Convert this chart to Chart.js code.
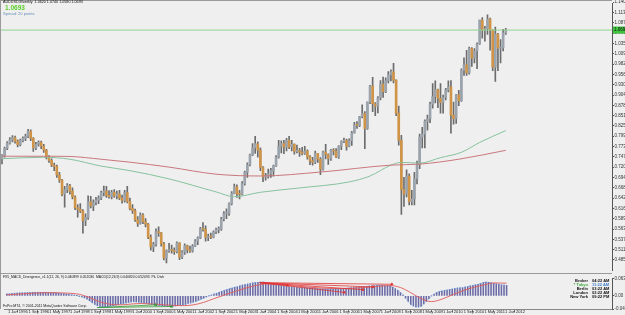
<!DOCTYPE html>
<html>
<head>
<meta charset="utf-8">
<script src="https://cdn.jsdelivr.net/npm/chart.js@4.4.1/dist/chart.umd.min.js"></script>
<style>
  body { margin: 0; background: #fff; }
  #wrap { position: relative; width: 625px; height: 315px; background: #efefef; overflow: hidden;
          font-family: 'Liberation Sans', Arial, sans-serif; }
  canvas { position: absolute; left: 0; }
  .t { position: absolute; white-space: nowrap; line-height: 1; color: #111; }
  .line { position: absolute; background: #9a9a9a; }
</style>
</head>
<body>
<div id="wrap">
  <canvas id="priceChart" width="625" height="274" style="top:0"></canvas>
  <canvas id="macdChart" width="625" height="41" style="top:274px"></canvas>
  <div class="line" style="left:0;top:0;width:612px;height:1px"></div>
  <div class="line" style="left:0;top:0;width:1px;height:309px"></div>
  <div class="line" style="left:0;top:273px;width:612px;height:1px"></div>

  <div class="t" style="left:3px;top:1px;font-size:3.7px">AUDUSD,Monthly&nbsp; 1.0620 1.0740 1.0580 1.0693</div>
  <div class="t" style="left:5px;top:5px;font-size:6.5px;font-weight:bold;color:#5ccf2c">1.0693</div>
  <div class="t" style="left:3px;top:12px;font-size:4px;color:#6a8fb8">Spread: 20 points.</div>
  <div class="t" style="left:3px;top:276px;font-size:3.4px">FX5_MACD_Divergence_v1.1(12, 26, 9) 0.040899 0.052030&nbsp; MACD(12,26,9) 0.040820 0.052093&nbsp; Pk. Divh</div>
  <div class="t" style="left:3px;top:304.5px;font-size:3.5px">FxPro MT4, © 2001-2011 MetaQuotes Software Corp.</div>
  <div class="t" style="left:556px;top:279px;width:32px;text-align:right;font-size:4px;font-weight:bold;line-height:4px">
    Broker<br><span style="color:#3aa63a">* Tokyo</span><br>Berlin<br>London<br>New York
  </div>
  <div class="t" style="left:592px;top:279px;font-size:4px;font-weight:bold;line-height:4px">
    04:22 AM<br><span style="color:#3d7fd0">11:22 AM</span><br>03:22 AM<br>02:22 AM<br>09:22 PM
  </div>
</div>
<script>
// AUDUSD monthly candles, Jan 1996 .. Feb 2012 (one value per month)
const opens = [
  0.7420,0.7500,0.7690,0.7820,0.7900,0.7960,0.7870,0.7780,0.7890,0.7940,0.7990,0.8120,
  0.7940,0.7700,0.7790,0.7840,0.7740,0.7640,0.7470,0.7380,0.7260,0.7230,0.7010,0.6880,
  0.6520,0.6640,0.6740,0.6600,0.6450,0.6180,0.6140,0.6090,0.5850,0.5930,0.6330,0.6220,
  0.6310,0.6370,0.6420,0.6560,0.6600,0.6490,0.6460,0.6570,0.6480,0.6530,0.6420,0.6360,
  0.6560,0.6340,0.6160,0.6100,0.5870,0.5780,0.5990,0.5820,0.5760,0.5430,0.5180,0.5250,
  0.5570,0.5540,0.5260,0.4900,0.5080,0.5100,0.5090,0.5060,0.5280,0.4920,0.5050,0.5210,
  0.5110,0.5080,0.5200,0.5330,0.5410,0.5650,0.5630,0.5420,0.5440,0.5430,0.5560,0.5620,
  0.5630,0.5890,0.6030,0.6040,0.6280,0.6540,0.6710,0.6530,0.6520,0.6790,0.7080,0.7270,
  0.7520,0.7700,0.7800,0.7640,0.7200,0.6960,0.6970,0.7040,0.7120,0.7240,0.7460,0.7740,
  0.7810,0.7720,0.7890,0.7720,0.7790,0.7610,0.7630,0.7590,0.7560,0.7620,0.7470,0.7370,
  0.7330,0.7560,0.7410,0.7160,0.7590,0.7530,0.7430,0.7640,0.7620,0.7470,0.7740,0.7860,
  0.7890,0.7740,0.7880,0.8080,0.8280,0.8270,0.8490,0.8570,0.8190,0.8860,0.9270,0.8820,
  0.8760,0.8970,0.9320,0.9130,0.9410,0.9560,0.9630,0.9420,0.8580,0.7890,0.6640,0.6530,
  0.6980,0.6330,0.6400,0.6920,0.7270,0.7970,0.8050,0.8380,0.8440,0.8810,0.9000,0.9180,
  0.8960,0.8850,0.8980,0.9170,0.9250,0.8530,0.8440,0.9050,0.8900,0.9670,0.9810,0.9610,
  1.0220,0.9980,1.0160,1.0340,1.0950,1.0690,1.0730,1.0970,1.0690,0.9750,1.0590,1.0230,
  1.0240,1.0620
];
const highs = [
  0.7530,0.7720,0.7860,0.7960,0.8010,0.8000,0.7900,0.7920,0.7980,0.8050,0.8170,0.8160,
  0.7960,0.7840,0.7880,0.7870,0.7790,0.7660,0.7500,0.7420,0.7310,0.7260,0.7080,0.6900,
  0.6720,0.6790,0.6770,0.6680,0.6480,0.6260,0.6280,0.6130,0.6020,0.6480,0.6470,0.6380,
  0.6440,0.6480,0.6600,0.6730,0.6720,0.6610,0.6620,0.6640,0.6600,0.6620,0.6500,0.6620,
  0.6720,0.6420,0.6260,0.6140,0.5950,0.6050,0.6030,0.5900,0.5780,0.5490,0.5300,0.5640,
  0.5690,0.5550,0.5300,0.5110,0.5270,0.5230,0.5160,0.5310,0.5290,0.5090,0.5260,0.5230,
  0.5200,0.5240,0.5370,0.5440,0.5680,0.5800,0.5720,0.5510,0.5530,0.5590,0.5660,0.5690,
  0.5930,0.6080,0.6150,0.6300,0.6590,0.6780,0.6760,0.6620,0.6840,0.7110,0.7320,0.7540,
  0.7810,0.7990,0.7850,0.7700,0.7220,0.7050,0.7160,0.7180,0.7260,0.7500,0.7890,0.7880,
  0.7890,0.7940,0.7990,0.7890,0.7800,0.7770,0.7690,0.7710,0.7740,0.7650,0.7500,0.7460,
  0.7620,0.7560,0.7450,0.7620,0.7790,0.7550,0.7660,0.7680,0.7680,0.7760,0.7880,0.7950,
  0.7920,0.7930,0.8120,0.8350,0.8370,0.8500,0.8790,0.8620,0.8870,0.9290,0.9490,0.8850,
  0.9000,0.9410,0.9500,0.9480,0.9640,0.9680,0.9850,0.9430,0.8760,0.8020,0.6950,0.7140,
  0.7040,0.6620,0.7080,0.7360,0.8050,0.8220,0.8410,0.8530,0.8860,0.9330,0.9400,0.9190,
  0.9330,0.9040,0.9210,0.9400,0.9410,0.8860,0.9060,0.9160,0.9710,0.9990,1.0180,1.0260,
  1.0250,1.0220,1.0370,1.0950,1.1010,1.0790,1.1080,1.1000,1.0700,1.0770,1.0610,1.0450,
  1.0710,1.0740
];
const lows = [
  0.7290,0.7460,0.7650,0.7790,0.7850,0.7820,0.7720,0.7750,0.7850,0.7880,0.7960,0.7880,
  0.7610,0.7650,0.7740,0.7680,0.7580,0.7420,0.7330,0.7220,0.7120,0.6950,0.6820,0.6480,
  0.6190,0.6560,0.6520,0.6400,0.6130,0.5940,0.6050,0.5530,0.5720,0.5880,0.6170,0.6100,
  0.6250,0.6280,0.6380,0.6480,0.6440,0.6420,0.6400,0.6440,0.6400,0.6380,0.6290,0.6320,
  0.6300,0.6120,0.6030,0.5830,0.5700,0.5760,0.5770,0.5690,0.5390,0.5100,0.5060,0.5200,
  0.5450,0.5200,0.4850,0.4775,0.5040,0.5020,0.4990,0.5030,0.4860,0.4880,0.4990,0.5030,
  0.5040,0.5050,0.5190,0.5240,0.5390,0.5580,0.5330,0.5340,0.5390,0.5410,0.5520,0.5540,
  0.5600,0.5840,0.5900,0.5980,0.6250,0.6530,0.6440,0.6400,0.6500,0.6750,0.6950,0.7240,
  0.7500,0.7560,0.7460,0.7120,0.6840,0.6880,0.6930,0.6950,0.6980,0.7230,0.7440,0.7570,
  0.7550,0.7620,0.7680,0.7620,0.7540,0.7570,0.7480,0.7520,0.7530,0.7410,0.7270,0.7260,
  0.7300,0.7330,0.7020,0.7130,0.7420,0.7280,0.7380,0.7520,0.7450,0.7430,0.7650,0.7830,
  0.7640,0.7720,0.7760,0.8070,0.8190,0.8240,0.8460,0.7680,0.8170,0.8820,0.8620,0.8520,
  0.8590,0.8920,0.8980,0.9100,0.9350,0.9400,0.9350,0.8520,0.7770,0.6010,0.6210,0.6450,
  0.6250,0.6250,0.6250,0.6780,0.7170,0.7700,0.7700,0.8150,0.8340,0.8710,0.8840,0.8720,
  0.8580,0.8580,0.8920,0.9120,0.8070,0.8300,0.8320,0.8770,0.8880,0.9540,0.9540,0.9570,
  0.9770,0.9860,0.9710,1.0330,1.0490,1.0410,1.0580,1.0180,0.9660,0.9390,0.9660,0.9860,
  1.0160,1.0580
];
const closes = [
  0.7500,0.7690,0.7820,0.7900,0.7960,0.7870,0.7780,0.7890,0.7940,0.7990,0.8120,0.7940,
  0.7700,0.7790,0.7840,0.7740,0.7640,0.7470,0.7380,0.7260,0.7230,0.7010,0.6880,0.6520,
  0.6640,0.6740,0.6600,0.6450,0.6180,0.6140,0.6090,0.5850,0.5930,0.6330,0.6220,0.6310,
  0.6370,0.6420,0.6560,0.6600,0.6490,0.6460,0.6570,0.6480,0.6530,0.6420,0.6360,0.6560,
  0.6340,0.6160,0.6100,0.5870,0.5780,0.5990,0.5820,0.5760,0.5430,0.5180,0.5250,0.5570,
  0.5540,0.5260,0.4900,0.5080,0.5100,0.5090,0.5060,0.5280,0.4920,0.5050,0.5210,0.5110,
  0.5080,0.5200,0.5330,0.5410,0.5650,0.5630,0.5420,0.5440,0.5430,0.5560,0.5620,0.5630,
  0.5890,0.6030,0.6040,0.6280,0.6540,0.6710,0.6530,0.6520,0.6790,0.7080,0.7270,0.7520,
  0.7700,0.7800,0.7640,0.7200,0.6960,0.6970,0.7040,0.7120,0.7240,0.7460,0.7740,0.7810,
  0.7720,0.7890,0.7720,0.7790,0.7610,0.7630,0.7590,0.7560,0.7620,0.7470,0.7370,0.7330,
  0.7560,0.7410,0.7160,0.7590,0.7530,0.7430,0.7640,0.7620,0.7470,0.7740,0.7860,0.7890,
  0.7740,0.7880,0.8080,0.8280,0.8270,0.8490,0.8570,0.8190,0.8860,0.9270,0.8820,0.8760,
  0.8970,0.9320,0.9130,0.9410,0.9560,0.9630,0.9420,0.8580,0.7890,0.6640,0.6530,0.6980,
  0.6330,0.6400,0.6920,0.7270,0.7970,0.8050,0.8380,0.8440,0.8810,0.9000,0.9180,0.8960,
  0.8850,0.8980,0.9170,0.9250,0.8530,0.8440,0.9050,0.8900,0.9670,0.9810,0.9610,1.0220,
  0.9980,1.0160,1.0340,1.0950,1.0690,1.0730,1.0970,1.0690,0.9750,1.0590,1.0230,1.0240,
  1.0620,1.0693
];

// moving averages at a few bars: [bar index, price]
const maSlow = [[0,0.7486],[16,0.7486],[26,0.7480],[38,0.7410],[49,0.7335],[64,0.7210],[82,0.7030],
  [99,0.6984],[122,0.7084],[149,0.7260],[160,0.7285],[175,0.7410],[193,0.7636]];
const maFast = [[0,0.7423],[16,0.7460],[26,0.7410],[38,0.7235],[49,0.7120],[64,0.6910],[82,0.6580],
  [89,0.6457],[99,0.6570],[114,0.6680],[133,0.6833],[141,0.6984],[149,0.7260],[153,0.7330],
  [160,0.7310],[168,0.7450],[176,0.7586],[183,0.7837],[193,0.8138]];

const lastPrice = 1.0693;
const priceTicks = [0.4850,0.5112,0.5374,0.5636,0.5898,0.6160,0.6422,0.6684,0.6946,0.7208,0.7470,
  0.7732,0.7994,0.8256,0.8518,0.8780,0.9042,0.9304,0.9566,0.9828,1.0090,1.0352,1.0614,1.0876,1.1138,1.1400];

// MACD(12,26,9) main value per bar
const macdMain = [
  0.007,0.008,0.009,0.010,0.0105,0.011,0.011,0.0115,0.012,0.0125,0.013,0.013,
  0.013,0.013,0.013,0.013,0.012,0.012,0.0115,0.011,0.010,0.009,0.008,0.007,
  0.006,0.004,0.003,0.001,-0.001,-0.004,-0.007,-0.012,-0.018,-0.025,-0.031,-0.036,
  -0.039,-0.041,-0.041,-0.040,-0.038,-0.036,-0.034,-0.032,-0.030,-0.028,-0.026,-0.024,
  -0.022,-0.021,-0.022,-0.023,-0.025,-0.026,-0.028,-0.030,-0.031,-0.032,-0.034,-0.035,
  -0.036,-0.037,-0.038,-0.038,-0.038,-0.037,-0.036,-0.034,-0.033,-0.031,-0.028,-0.026,
  -0.023,-0.020,-0.016,-0.012,-0.008,-0.004,0.000,0.003,0.007,0.010,0.013,0.017,
  0.020,0.023,0.026,0.029,0.032,0.034,0.037,0.040,0.042,0.044,0.046,0.048,
  0.049,0.050,0.051,0.051,0.050,0.048,0.046,0.043,0.041,0.039,0.038,0.036,
  0.035,0.034,0.033,0.032,0.032,0.031,0.031,0.031,0.030,0.030,0.029,0.028,
  0.027,0.026,0.026,0.025,0.025,0.025,0.025,0.026,0.026,0.026,0.027,0.028,
  0.029,0.030,0.031,0.032,0.033,0.034,0.034,0.035,0.036,0.037,0.038,0.039,
  0.039,0.039,0.038,0.037,0.036,0.032,0.027,0.021,0.012,0.004,-0.008,-0.020,
  -0.031,-0.037,-0.041,-0.041,-0.038,-0.030,-0.020,-0.010,0.000,0.007,0.012,0.016,
  0.018,0.020,0.022,0.023,0.025,0.027,0.029,0.030,0.031,0.033,0.035,0.037,
  0.039,0.041,0.043,0.046,0.049,0.051,0.050,0.048,0.046,0.045,0.043,0.041,
  0.040,0.039
];
// signal line read at a few bars: [bar index, value]
const macdSignal = [[0,0.004],[8,0.009],[16,0.012],[24,0.010],[28,0.006],[32,-0.006],[36,-0.022],
  [40,-0.031],[44,-0.033],[48,-0.030],[52,-0.028],[56,-0.030],[60,-0.032],[64,-0.035],[68,-0.036],
  [72,-0.033],[76,-0.024],[80,-0.010],[84,0.003],[88,0.016],[92,0.028],[96,0.038],[100,0.044],
  [104,0.044],[108,0.040],[112,0.036],[116,0.033],[120,0.030],[124,0.028],[128,0.027],[132,0.028],
  [136,0.030],[140,0.033],[144,0.036],[148,0.038],[152,0.031],[156,0.012],[160,-0.010],
  [164,-0.021],[168,-0.012],[172,0.004],[176,0.019],[180,0.031],[184,0.040],[188,0.048],[193,0.047]];
// divergence trend lines in the MACD window
const bearDivStart = [97.7, 0.049];
const bearDivEnds = [[108.4, 0.039], [130.3, 0.013], [137.5, 0.023], [141.4, 0.033], [148.7, 0.043]];
const bullDivStart = [34.9, -0.043];
const bullDivEnds = [[57.5, -0.033], [63.6, -0.039]];
const macdTicks = [-0.0483, 0, 0.0632];

const dateLabels = ['1 Jan 1996','1 Sep 1996','1 May 1997','1 Jan 1998','1 Sep 1998','1 May 1999',
  '1 Jan 2000','1 Sep 2000','1 May 2001','1 Jan 2002','1 Sep 2002','1 May 2003','1 Jan 2004',
  '1 Sep 2004','1 May 2005','1 Jan 2006','1 Sep 2006','1 May 2007','1 Jan 2008','1 Sep 2008',
  '1 May 2009','1 Jan 2010','1 Sep 2010','1 May 2011','1 Jan 2012'];
const dateTickBars = [0,8,16,24,32,40,48,56,64,72,80,88,96,104,112,120,128,136,144,152,160,168,176,184,192];

const X_MIN = -0.766, X_MAX = 233.7;
const BULL = '#9ba3ac', BEAR = '#cf9447', WICK = '#6c6c6c';
const FONT = 'Liberation Sans';

const bars = closes.map((_, i) => i);
const toXY = (pts) => pts.map(p => ({ x: p[0], y: p[1] }));

const priceBox = {
  id: 'priceBox',
  afterDraw(chart) {
    const { ctx, scales } = chart;
    const y = scales.y.getPixelForValue(lastPrice);
    ctx.save();
    ctx.fillStyle = '#3fc43f';
    ctx.fillRect(scales.y.left + 1, y - 3.5, 13, 7);
    ctx.fillStyle = '#111';
    ctx.font = '4.5px ' + FONT;
    ctx.textBaseline = 'middle';
    ctx.fillText(lastPrice.toFixed(4), scales.y.left + 2, y);
    ctx.restore();
  }
};

new Chart(document.getElementById('priceChart'), {
  type: 'bar',
  data: {
    datasets: [
      {
        label: 'bid',
        type: 'line',
        data: [{ x: X_MIN, y: lastPrice }, { x: X_MAX, y: lastPrice }],
        borderColor: '#8ed48e', borderWidth: 1, pointRadius: 0, order: 0
      },
      {
        label: 'MA slow',
        type: 'line',
        data: toXY(maSlow),
        borderColor: '#c9777c', borderWidth: 1, pointRadius: 0,
        cubicInterpolationMode: 'monotone', order: 0
      },
      {
        label: 'MA fast',
        type: 'line',
        data: toXY(maFast),
        borderColor: '#86c29c', borderWidth: 1, pointRadius: 0,
        cubicInterpolationMode: 'monotone', order: 0
      },
      {
        label: 'body',
        data: bars.map(i => ({ x: i, y: [opens[i], closes[i]] })),
        backgroundColor: bars.map(i => closes[i] >= opens[i] ? BULL : BEAR),
        barThickness: 2, minBarLength: 1, grouped: false, order: 1
      },
      {
        label: 'wick',
        data: bars.map(i => ({ x: i, y: [lows[i], highs[i]] })),
        backgroundColor: WICK,
        barThickness: 1, grouped: false, order: 2
      }
    ]
  },
  options: {
    responsive: false, animation: false, devicePixelRatio: 1,
    layout: { padding: { top: 2, bottom: 1, left: 0, right: 0 } },
    plugins: { legend: { display: false }, tooltip: { enabled: false } },
    scales: {
      x: { type: 'linear', display: false, min: X_MIN, max: X_MAX, offset: false },
      y: {
        position: 'right', min: 0.4574, max: 1.1376,
        afterBuildTicks: s => { s.ticks = priceTicks.map(v => ({ value: v })); },
        afterFit: s => { s.width = 13; },
        ticks: { font: { size: 4.5, family: FONT }, color: '#333', padding: 0.5,
                 callback: v => v.toFixed(4) },
        grid: { drawOnChartArea: false, tickLength: 2, color: '#555' },
        border: { color: '#555' }
      }
    }
  },
  plugins: [priceBox]
});

const divLine = (from, to, color) => ({
  type: 'line',
  data: [{ x: from[0], y: from[1] }, { x: to[0], y: to[1] }],
  borderColor: color, backgroundColor: color, borderWidth: 0.8,
  pointRadius: [0, 1.4], pointStyle: 'triangle', order: 0
});

new Chart(document.getElementById('macdChart'), {
  type: 'bar',
  data: {
    datasets: [
      {
        label: 'MACD hist',
        data: bars.map(i => ({ x: i, y: macdMain[i] })),
        backgroundColor: '#6a6aa6', barThickness: 0.9, order: 3
      },
      {
        label: 'MACD',
        type: 'line',
        data: bars.map(i => ({ x: i, y: macdMain[i] })),
        borderColor: '#5c9ee6', borderWidth: 0.9, borderDash: [1, 1.5], pointRadius: 0, order: 2
      },
      {
        label: 'Signal',
        type: 'line',
        data: toXY(macdSignal),
        borderColor: '#e05a5a', borderWidth: 0.9, pointRadius: 0,
        cubicInterpolationMode: 'monotone', order: 1
      },
      ...bearDivEnds.map(p => divLine(bearDivStart, p, '#e03434')),
      ...bullDivEnds.map(p => divLine(bullDivStart, p, '#3a9a3a'))
    ]
  },
  options: {
    responsive: false, animation: false, devicePixelRatio: 1,
    layout: { padding: { top: 1, bottom: 0, left: 0, right: 0 } },
    plugins: { legend: { display: false }, tooltip: { enabled: false } },
    scales: {
      x: {
        type: 'linear', min: X_MIN, max: X_MAX, offset: false,
        afterBuildTicks: s => { s.ticks = dateTickBars.map(v => ({ value: v })); },
        afterFit: s => { s.height = 6; },
        ticks: { align: 'start', autoSkip: false, maxRotation: 0, padding: -2.4,
                 font: { size: 4, family: FONT }, color: '#222',
                 callback: (v, i) => ' ' + dateLabels[i] },
        grid: { drawOnChartArea: false, tickLength: 3, color: '#777' },
        border: { color: '#888' }
      },
      y: {
        position: 'right', min: -0.0483, max: 0.0632,
        afterBuildTicks: s => { s.ticks = macdTicks.map(v => ({ value: v })); },
        afterFit: s => { s.width = 13; },
        ticks: { font: { size: 4.5, family: FONT }, color: '#333', padding: 0.5,
                 callback: v => v === 0 ? '0.00' : v.toFixed(4) },
        grid: { drawOnChartArea: false, tickLength: 2, color: '#555' },
        border: { color: '#555' }
      }
    }
  }
});
</script>
</body>
</html>
